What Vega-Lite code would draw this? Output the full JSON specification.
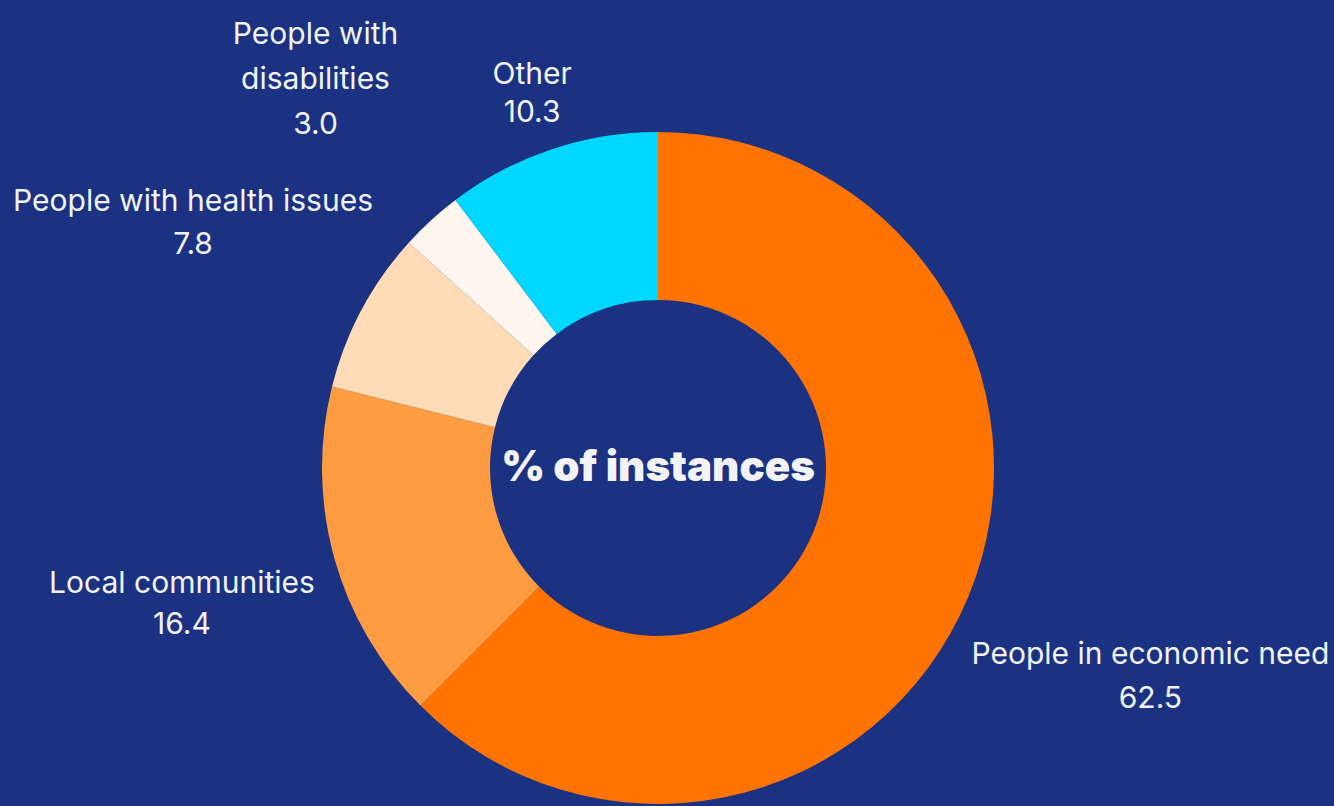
{
  "$schema": "https://vega.github.io/schema/vega-lite/v6.json",
  "width": 1316,
  "height": 676,
  "autosize": {"type": "none"},
  "padding": {"top": 130, "bottom": 0, "left": 0, "right": 18},
  "background": "#1b3282",
  "config": {"view": {"stroke": null}},
  "data": {
    "values": [
      {"rank": 1, "category": "People in economic need", "label": "People in economic need", "value": 62.5},
      {"rank": 2, "category": "Local communities", "label": "Local communities", "value": 16.4},
      {"rank": 3, "category": "People with health issues", "label": "People with health issues", "value": 7.8},
      {"rank": 4, "category": "People with disabilities", "label": "People with\ndisabilities", "value": 3.0},
      {"rank": 5, "category": "Other", "label": "Other", "value": 10.3}
    ]
  },
  "transform": [
    {"stack": "value", "groupby": [], "sort": [{"field": "rank", "order": "ascending"}], "as": ["v0", "v1"]},
    {"calculate": "(datum.v0 + datum.v1) / 2", "as": "mid"},
    {"calculate": "datum.label + '\\n' + format(datum.value, '.1f')", "as": "text"}
  ],
  "layer": [
    {
      "mark": {"type": "arc", "outerRadius": 336, "innerRadius": 168},
      "encoding": {
        "theta": {"field": "v0", "type": "quantitative", "stack": null, "scale": {"domain": [0, 100]}},
        "theta2": {"field": "v1"},
        "color": {
          "field": "category",
          "type": "nominal",
          "legend": null,
          "scale": {
            "domain": ["People in economic need", "Local communities", "People with health issues", "People with disabilities", "Other"],
            "range": ["#ff7300", "#ff9c42", "#ffdcb6", "#fff7ef", "#00d7ff"]
          }
        }
      }
    },
    {
      "transform": [{"filter": "datum.rank == 1"}],
      "mark": {"type": "text", "radius": 533, "dy": -17, "font": "Inter", "fontSize": 30, "lineHeight": 44, "lineBreak": "\n", "color": "#f2f2f4", "align": "center", "baseline": "middle"},
      "encoding": {"theta": {"field": "mid", "type": "quantitative", "stack": null}, "text": {"field": "text"}}
    },
    {
      "transform": [{"filter": "datum.rank == 2"}],
      "mark": {"type": "text", "radius": 495, "dy": -16, "dx": 1, "font": "Inter", "fontSize": 30, "lineHeight": 41, "lineBreak": "\n", "color": "#f2f2f4", "align": "center", "baseline": "middle"},
      "encoding": {"theta": {"field": "mid", "type": "quantitative", "stack": null}, "text": {"field": "text"}}
    },
    {
      "transform": [{"filter": "datum.rank == 3"}],
      "mark": {"type": "text", "radius": 527, "dy": -18, "font": "Inter", "fontSize": 30, "lineHeight": 43, "lineBreak": "\n", "color": "#f2f2f4", "align": "center", "baseline": "middle"},
      "encoding": {"theta": {"field": "mid", "type": "quantitative", "stack": null}, "text": {"field": "text"}}
    },
    {
      "transform": [{"filter": "datum.rank == 4"}],
      "mark": {"type": "text", "radius": 519, "dy": -50, "dx": 8, "font": "Inter", "fontSize": 30, "lineHeight": 45, "lineBreak": "\n", "color": "#f2f2f4", "align": "center", "baseline": "middle"},
      "encoding": {"theta": {"field": "mid", "type": "quantitative", "stack": null}, "text": {"field": "text"}}
    },
    {
      "transform": [{"filter": "datum.rank == 5"}],
      "mark": {"type": "text", "radius": 396, "dy": -18, "font": "Inter", "fontSize": 30, "lineHeight": 38, "lineBreak": "\n", "color": "#f2f2f4", "align": "center", "baseline": "middle"},
      "encoding": {"theta": {"field": "mid", "type": "quantitative", "stack": null}, "text": {"field": "text"}}
    },
    {
      "data": {"values": [{"title": "% of instances"}]},
      "mark": {"type": "text", "font": "Inter", "fontSize": 42, "fontWeight": 900, "color": "#f3f3f5", "align": "center", "baseline": "middle"},
      "encoding": {"text": {"field": "title"}}
    }
  ]
}
